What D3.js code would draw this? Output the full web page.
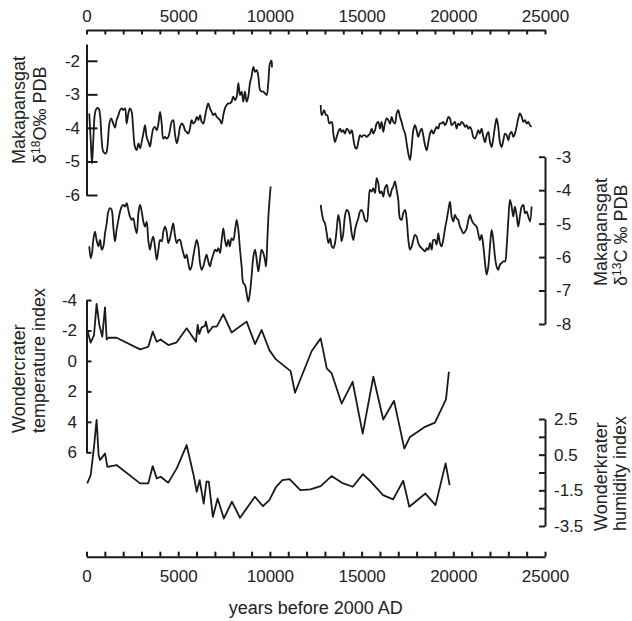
<!DOCTYPE html>
<html><head><meta charset="utf-8">
<script src="https://cdn.jsdelivr.net/npm/d3@7"></script>
<style>html,body{margin:0;padding:0;background:#fff;}svg{display:block;}</style>
</head><body>
<script>
// ---- tick labels / axis values ----
const xTicks = d3.range(0, 25001, 1000);
const xLabels = [0, 5000, 10000, 15000, 20000, 25000];
const d18OTicks = [-2, -3, -4, -5, -6];
const d13CTicks = [-3, -4, -5, -6, -7, -8];
const tempTicks = [-4, -2, 0, 2, 4, 6];
const humTicks = [2.5, 1.5, 0.5, -0.5, -1.5, -2.5, -3.5];
const humLabels = [2.5, 0.5, -1.5, -3.5];

// ---- Makapansgat δ18O (years BP, ‰) ----
const d18O_a = [[150,-3.57],[230,-4.37],[300,-5.06],[370,-4.37],[460,-3.57],[550,-3.42],[660,-3.42],[740,-3.62],[830,-4.37],[920,-4.71],[1060,-4.76],[1140,-4.56],[1250,-3.87],[1340,-3.72],[1460,-3.87],[1550,-3.99],[1640,-3.77],[1740,-3.62],[1830,-3.47],[1920,-3.42],[2010,-3.47],[2100,-3.42],[2190,-3.87],[2280,-3.57],[2370,-3.42],[2460,-3.52],[2550,-4.07],[2640,-4.56],[2740,-4.66],[2830,-4.46],[2920,-4.61],[3010,-4.41],[3100,-4.17],[3190,-3.92],[3280,-4.27],[3370,-4.41],[3460,-4.56],[3550,-4.27],[3640,-4.02],[3730,-3.97],[3830,-4.07],[3920,-3.87],[4010,-3.52],[4100,-3.87],[4190,-4.32],[4280,-4.27],[4370,-4.32],[4460,-4.27],[4550,-4.07],[4640,-3.82],[4730,-3.77],[4820,-4.17],[4920,-4.46],[5010,-4.27],[5100,-3.97],[5190,-3.87],[5280,-3.92],[5370,-4.07],[5460,-4.12],[5550,-4.17],[5640,-4.02],[5730,-3.77],[5820,-3.87],[5920,-3.82],[6010,-3.67],[6100,-3.77],[6190,-3.62],[6280,-3.82],[6370,-3.87],[6460,-3.67],[6550,-3.42],[6640,-3.27],[6730,-3.42],[6820,-3.52],[6910,-3.62],[7010,-3.57],[7100,-3.67],[7190,-3.72],[7280,-3.77],[7370,-3.87],[7460,-3.62],[7550,-3.42],[7640,-3.32],[7730,-3.27],[7820,-3.27],[7910,-3.22],[8000,-3.07],[8100,-3.17],[8190,-3.07],[8280,-2.67],[8370,-3.02],[8460,-2.92],[8550,-3.22],[8640,-2.92],[8730,-3.22],[8820,-3.07],[8910,-2.67],[9000,-2.47],[9100,-2.18],[9190,-2.33],[9280,-2.28],[9370,-2.47],[9460,-2.87],[9550,-2.92],[9640,-2.92],[9730,-2.97],[9820,-3.02],[9910,-2.67],[10000,-2.08],[10090,-2.0],[10110,-2.2]];
const d18O_b = [[12770,-3.32],[12820,-3.62],[12880,-3.57],[12950,-3.47],[13060,-3.62],[13130,-3.62],[13240,-3.87],[13370,-3.82],[13460,-4.17],[13550,-4.42],[13640,-4.27],[13730,-4.12],[13820,-4.02],[13910,-4.12],[14000,-4.07],[14090,-4.17],[14190,-4.02],[14280,-4.07],[14370,-4.17],[14460,-4.07],[14550,-4.32],[14640,-4.57],[14730,-4.62],[14820,-4.42],[14910,-4.22],[15000,-4.27],[15090,-4.22],[15180,-4.22],[15280,-4.27],[15370,-4.22],[15460,-4.17],[15550,-4.02],[15640,-4.17],[15730,-4.07],[15820,-3.87],[15910,-3.82],[16000,-4.02],[16090,-3.82],[16180,-4.12],[16270,-3.87],[16370,-3.72],[16460,-3.77],[16550,-3.87],[16640,-3.67],[16730,-3.82],[16820,-3.87],[16910,-3.57],[17000,-3.47],[17090,-3.67],[17180,-3.82],[17270,-4.02],[17370,-4.17],[17460,-4.47],[17550,-4.77],[17640,-4.96],[17730,-4.57],[17820,-4.07],[17910,-3.92],[18000,-4.07],[18090,-4.27],[18180,-4.12],[18270,-4.02],[18360,-4.22],[18460,-4.52],[18550,-4.67],[18640,-4.42],[18730,-4.17],[18820,-4.07],[18910,-4.17],[19000,-4.07],[19090,-3.97],[19180,-4.02],[19270,-3.87],[19360,-3.87],[19450,-3.82],[19550,-3.92],[19640,-3.82],[19730,-3.67],[19820,-3.72],[19910,-3.92],[20000,-3.87],[20090,-3.82],[20180,-4.02],[20270,-3.87],[20360,-3.92],[20450,-3.82],[20550,-3.87],[20640,-3.97],[20730,-3.92],[20820,-4.02],[20910,-3.97],[21000,-4.07],[21090,-4.27],[21180,-4.32],[21270,-4.22],[21360,-4.07],[21450,-4.17],[21540,-4.02],[21640,-4.27],[21730,-4.42],[21820,-4.22],[21910,-4.12],[22000,-4.42],[22090,-4.57],[22180,-4.32],[22270,-3.97],[22360,-3.72],[22450,-3.97],[22540,-4.42],[22630,-4.57],[22730,-4.37],[22820,-4.17],[22910,-4.22],[23000,-4.37],[23090,-4.17],[23180,-4.12],[23270,-4.27],[23360,-4.17],[23450,-3.97],[23540,-3.72],[23630,-3.57],[23730,-3.67],[23820,-3.82],[23910,-3.77],[24000,-3.87],[24090,-3.82],[24180,-3.92],[24270,-3.97]];

// ---- Makapansgat δ13C (years BP, ‰) ----
const d13C_a = [[150,-5.68],[230,-6.03],[300,-5.88],[370,-5.49],[460,-5.24],[550,-5.49],[650,-5.68],[740,-5.49],[830,-5.78],[920,-5.68],[1010,-5.29],[1100,-4.99],[1190,-4.64],[1280,-4.54],[1370,-4.59],[1460,-5.09],[1550,-5.53],[1640,-5.19],[1740,-4.89],[1830,-4.64],[1920,-4.49],[2010,-4.44],[2100,-4.49],[2190,-4.39],[2280,-4.59],[2370,-4.79],[2460,-4.89],[2550,-4.84],[2640,-5.09],[2740,-5.29],[2830,-4.69],[2920,-4.44],[3010,-4.64],[3100,-4.94],[3190,-5.09],[3280,-4.94],[3370,-5.49],[3460,-5.78],[3550,-5.53],[3640,-5.39],[3730,-5.68],[3830,-6.08],[3920,-5.78],[4010,-5.49],[4100,-5.53],[4190,-5.24],[4280,-5.09],[4370,-5.24],[4460,-5.58],[4550,-5.44],[4640,-5.19],[4730,-4.99],[4820,-5.34],[4920,-5.58],[5010,-5.49],[5100,-5.49],[5190,-5.68],[5280,-5.88],[5370,-6.03],[5460,-5.93],[5550,-6.18],[5640,-6.38],[5730,-6.28],[5820,-5.98],[5920,-5.68],[6010,-5.49],[6100,-5.68],[6190,-6.18],[6280,-6.38],[6370,-6.28],[6460,-6.08],[6550,-5.93],[6640,-6.13],[6730,-6.28],[6820,-6.08],[6910,-5.93],[7010,-5.78],[7100,-5.83],[7190,-5.73],[7280,-5.88],[7370,-5.49],[7460,-5.14],[7550,-5.49],[7640,-5.68],[7730,-5.49],[7820,-5.68],[7910,-5.44],[8000,-5.49],[8100,-5.19],[8190,-4.89],[8280,-5.19],[8370,-5.78],[8460,-6.28],[8550,-6.78],[8640,-6.83],[8730,-7.08],[8820,-7.33],[8910,-7.08],[9000,-6.58],[9100,-5.98],[9190,-5.78],[9280,-6.08],[9370,-6.43],[9460,-6.08],[9550,-5.78],[9640,-5.88],[9730,-6.08],[9790,-6.28],[9860,-5.49],[9930,-4.69],[10040,-3.89]];
const d13C_b = [[12770,-4.44],[12820,-4.64],[12910,-4.89],[13000,-4.99],[13100,-5.29],[13190,-5.58],[13280,-5.44],[13370,-5.68],[13460,-5.73],[13550,-5.58],[13640,-5.19],[13730,-4.74],[13820,-4.99],[13910,-5.53],[14000,-5.29],[14090,-4.79],[14190,-4.59],[14280,-4.64],[14370,-4.89],[14460,-5.29],[14550,-5.49],[14640,-5.19],[14730,-4.99],[14820,-4.84],[14910,-4.64],[15000,-4.59],[15090,-4.69],[15180,-4.89],[15280,-4.94],[15370,-4.49],[15460,-3.99],[15550,-4.04],[15640,-3.94],[15730,-4.09],[15820,-3.64],[15910,-3.79],[16000,-4.09],[16090,-4.04],[16180,-4.19],[16270,-3.94],[16370,-3.84],[16460,-4.09],[16550,-4.19],[16640,-3.99],[16730,-3.89],[16820,-3.74],[16910,-3.99],[17000,-4.29],[17090,-4.84],[17180,-4.89],[17270,-4.69],[17370,-4.59],[17460,-4.89],[17550,-5.49],[17640,-5.78],[17730,-5.68],[17820,-5.49],[17910,-5.34],[18000,-5.39],[18090,-5.58],[18180,-5.68],[18270,-5.73],[18360,-5.78],[18460,-5.83],[18550,-5.73],[18640,-5.78],[18730,-5.58],[18820,-5.78],[18910,-5.49],[19000,-5.49],[19090,-5.63],[19180,-5.29],[19270,-5.58],[19360,-5.68],[19450,-5.49],[19550,-5.14],[19640,-4.89],[19730,-4.59],[19820,-4.34],[19910,-4.79],[20000,-4.94],[20090,-4.74],[20180,-4.84],[20270,-4.89],[20360,-5.09],[20450,-5.19],[20550,-5.29],[20640,-5.24],[20730,-5.14],[20820,-4.89],[20910,-4.74],[21000,-4.89],[21090,-4.99],[21180,-5.04],[21270,-5.09],[21360,-5.29],[21450,-5.49],[21540,-5.34],[21640,-5.68],[21730,-6.18],[21820,-6.53],[21910,-6.28],[22000,-5.68],[22090,-5.19],[22180,-5.49],[22270,-5.98],[22360,-6.28],[22450,-6.38],[22540,-6.23],[22630,-6.18],[22730,-6.13],[22820,-6.13],[22910,-5.68],[23000,-4.89],[23090,-4.29],[23180,-4.49],[23270,-4.79],[23360,-4.49],[23450,-4.74],[23540,-5.09],[23630,-4.79],[23730,-4.49],[23820,-4.44],[23910,-4.69],[24000,-4.64],[24090,-4.79],[24180,-4.94],[24270,-4.49]];

// ---- Wondercrater temperature index ----
const tempData = [[40,-2.03],[230,-1.20],[410,-1.70],[550,-3.74],[700,-2.36],[860,-1.59],[1010,-3.52],[1100,-1.41],[1190,-1.52],[1640,-1.52],[2920,-0.76],[3370,-0.93],[3610,-1.92],[3830,-1.26],[4040,-1.41],[4460,-1.04],[4920,-1.22],[5460,-2.14],[5970,-1.26],[6060,-2.36],[6150,-1.77],[6280,-2.20],[6460,-2.29],[6510,-2.58],[6640,-1.85],[6880,-2.25],[7100,-2.25],[7460,-3.06],[7910,-1.87],[8730,-2.58],[9190,-1.11],[9550,-2.03],[9970,-0.71],[10330,-0.10],[11130,0.67],[11370,2.09],[12280,-0.65],[12770,-1.48],[13100,0.49],[13370,0.82],[13910,2.80],[14510,1.37],[15060,4.77],[15640,1.04],[16180,3.85],[16770,2.62],[17330,5.76],[17640,4.99],[18460,4.33],[19000,4.05],[19600,2.53],[19760,0.71]];

// ---- Wonderkrater humidity index ----
const humData = [[40,-1.11],[230,-0.64],[410,0.95],[550,2.45],[660,0.48],[740,0.20],[880,0.39],[1010,0.57],[1140,-0.18],[1640,-0.08],[2920,-1.11],[3370,-1.11],[3610,-0.14],[3830,-0.83],[4040,-0.74],[4460,-1.07],[4920,-0.27],[5460,1.04],[5840,-0.65],[6010,-1.58],[6170,-0.93],[6390,-2.24],[6540,-1.02],[6670,-1.02],[6890,-2.99],[7150,-1.96],[7490,-3.08],[7930,-2.14],[8370,-3.04],[9180,-1.86],[9620,-2.39],[9970,-2.05],[10340,-1.30],[10680,-0.93],[11070,-0.87],[11660,-1.49],[12210,-1.45],[12770,-1.26],[13360,-0.70],[13930,-1.08],[14520,-1.30],[15070,-0.59],[15510,-1.02],[16170,-1.77],[16720,-2.01],[17270,-0.96],[17600,-2.42],[18480,-1.68],[19030,-2.33],[19580,0.01],[19800,-1.21]];

// ---- drawing ----
const W = 632, H = 621;
const FONT = "'Liberation Sans', Arial, Helvetica, sans-serif";
const TXT = "#222", LINE = "#1a1a1a";
const svg = d3.select("body").append("svg").attr("width", W).attr("height", H);

const x = d3.scaleLinear().domain([0, 25000]).range([86.5, 545]);
const y18 = d3.scaleLinear().domain([-1.5, -6]).range([44, 195]);
const y13 = d3.scaleLinear().domain([-3, -8]).range([156.7, 324]);
const yT = d3.scaleLinear().domain([-4, 6]).range([300, 452.3]);
const yH = d3.scaleLinear().domain([2.5, -3.5]).range([419, 526]);

function style(g) {
  g.attr("font-size", 17).attr("font-family", FONT);
  g.selectAll("path.domain").attr("stroke", LINE).attr("stroke-width", 2);
  g.selectAll(".tick line").attr("stroke", LINE).attr("stroke-width", 2);
  g.selectAll(".tick text").attr("fill", TXT);
}

const fmtX = d => xLabels.includes(d) ? String(d) : "";
svg.append("g").attr("transform", "translate(0,30)")
  .call(d3.axisTop(x).tickValues(xTicks).tickFormat(fmtX).tickSizeInner(-4.5).tickSizeOuter(0).tickPadding(8))
  .call(style);
svg.append("g").attr("transform", "translate(0,556.7)")
  .call(d3.axisBottom(x).tickValues(xTicks).tickFormat(fmtX).tickSizeInner(-5).tickSizeOuter(0).tickPadding(13))
  .call(style);

svg.append("g").attr("transform", "translate(86.5,0)")
  .call(d3.axisLeft(y18).tickValues(d18OTicks).tickFormat(d => String(d)).tickSizeInner(-11).tickSizeOuter(0).tickPadding(6.5))
  .call(style);
svg.append("g").attr("transform", "translate(86.5,0)")
  .call(d3.axisLeft(yT).tickValues(tempTicks).tickFormat(d => String(d)).tickSizeInner(-5).tickSizeOuter(0).tickPadding(9.5))
  .call(style);
svg.append("g").attr("transform", "translate(545,0)")
  .call(d3.axisRight(y13).tickValues(d13CTicks).tickFormat(d => String(d)).tickSizeInner(-6).tickSizeOuter(0).tickPadding(11))
  .call(style);
svg.append("g").attr("transform", "translate(545,0)")
  .call(d3.axisRight(yH).tickValues(humTicks).tickFormat(d => humLabels.includes(d) ? String(d) : "").tickSizeInner(-6).tickSizeOuter(0).tickPadding(9))
  .call(style);

// curves
const smooth = ys => d3.line().x(d => x(d[0])).y(d => ys(d[1])).curve(d3.curveCatmullRom.alpha(0.5));
const straight = ys => d3.line().x(d => x(d[0])).y(d => ys(d[1]));
const series = [
  [d18O_a, smooth(y18)], [d18O_b, smooth(y18)],
  [d13C_a, smooth(y13)], [d13C_b, smooth(y13)],
  [tempData, straight(yT)], [humData, straight(yH)]
];
series.forEach(([data, gen]) => {
  svg.append("path").datum(data).attr("d", gen)
    .attr("fill", "none").attr("stroke", LINE).attr("stroke-width", 1.8)
    .attr("stroke-linejoin", "round");
});

// axis titles (rotated, anchored at bottom)
function vtitle(xb, yb, parts) {
  const t = svg.append("text").attr("transform", `translate(${xb},${yb}) rotate(-90)`)
    .attr("font-family", FONT).attr("font-size", 18).attr("fill", TXT);
  parts.forEach(p => {
    const s = t.append("tspan").text(p.t);
    if (p.sup) s.attr("font-size", 12).attr("dy", -6);
    if (p.after) s.attr("dy", 6);
  });
}
vtitle(25, 164, [{t: "Makapansgat"}]);
vtitle(46, 164, [{t: "δ"}, {t: "18", sup: true}, {t: "O‰ PDB", after: true}]);
vtitle(25, 433, [{t: "Wondercrater"}]);
vtitle(45, 433, [{t: "temperature index"}]);
vtitle(607, 286, [{t: "Makapansgat"}]);
vtitle(627, 286, [{t: "δ"}, {t: "13", sup: true}, {t: "C ‰ PDB", after: true}]);
vtitle(607, 531, [{t: "Wonderkrater"}]);
vtitle(626, 531, [{t: "humidity index"}]);

svg.append("text").attr("x", (86.5 + 545) / 2).attr("y", 614)
  .attr("text-anchor", "middle").attr("font-family", FONT).attr("font-size", 18)
  .attr("fill", TXT).text("years before 2000 AD");
</script>
</body></html>
